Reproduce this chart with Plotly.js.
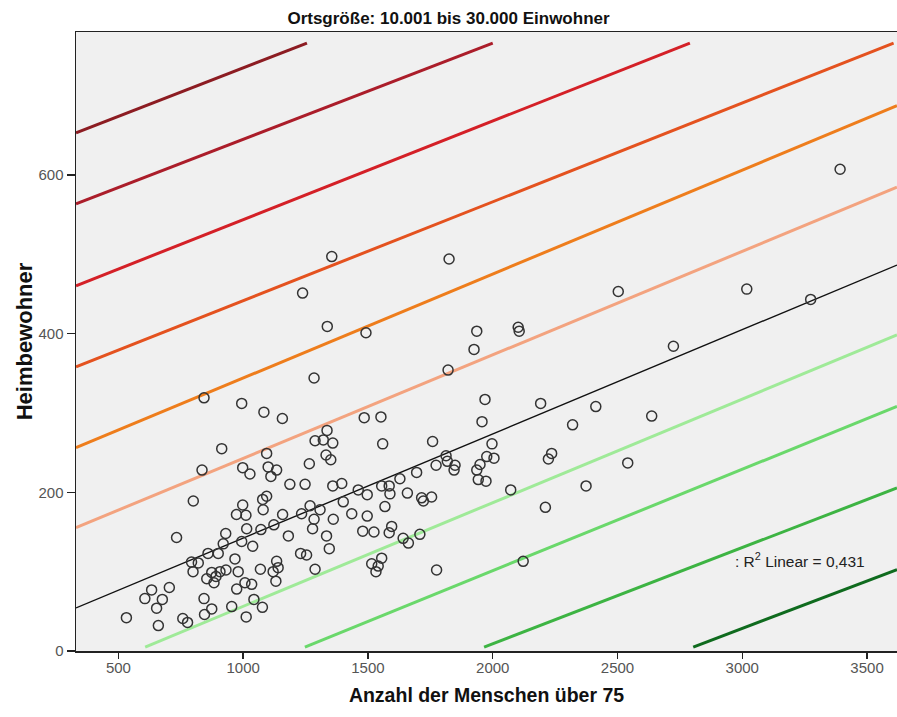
<!DOCTYPE html>
<html>
<head>
<meta charset="utf-8">
<script src="https://cdn.plot.ly/plotly-3.0.1.min.js"></script>
<style>html,body{margin:0;padding:0;background:#fff;}#chart{width:897px;height:717px;}</style>
</head>
<body>
<div id="chart"></div>
<script>
// Scatter data: Anzahl der Menschen über 75 (x) vs. Heimbewohner (y)
const xVals = [
  3392,3018,3274,2503,2724,1355,1825,1238,1337,1492,
  1936,1925,2102,2106,1284,1821,843,994,1083,1157,
  1485,1552,1969,1957,2192,2413,2320,2637,914,835,
  998,1027,1094,1100,1134,1111,1265,1187,1248,1288,
  1321,1336,1359,1332,1351,1359,1395,1559,1759,1997,
  1976,2005,2236,2223,2541,2374,2072,2211,2122,1773,
  1813,1818,1849,1845,1949,1936,1942,1973,1695,1628,
  1555,1585,1588,1461,1497,1658,1715,1755,1722,1401,
  1268,1308,1568,1234,1284,1361,1435,1497,1278,1334,
  1181,1479,1524,1585,1595,1641,1662,1708,1345,1230,
  1254,1288,1515,1541,1555,1532,1775,800,998,1080,
  973,1011,1094,1078,1158,733,930,1014,1071,1123,
  920,994,1038,1134,1120,1140,1131,1069,967,793,
  820,799,859,900,854,874,891,883,907,931,
  974,1007,1034,980,633,704,606,676,653,532,
  660,843,874,845,954,1012,758,777,1043,1077
];
const yVals = [
  607,456,443,453,384,497,494,451,409,401,
  403,380,408,403,344,354,319,312,301,293,
  294,295,317,289,312,308,285,296,255,228,
  231,223,249,232,228,220,236,210,210,265,
  266,278,262,247,241,208,211,261,264,261,
  245,243,249,242,237,208,203,181,113,234,
  246,239,234,228,235,228,216,214,225,217,
  208,208,198,203,197,199,193,194,189,188,
  183,178,182,173,166,166,173,170,154,145,
  145,151,150,149,157,142,136,147,129,123,
  121,103,110,107,117,100,102,189,184,178,
  172,171,195,191,172,143,148,154,153,159,
  135,138,132,113,100,105,88,103,116,112,
  111,100,123,123,91,99,94,86,100,102,
  78,86,84,100,77,80,66,65,54,42,
  32,66,53,46,56,43,41,36,65,55
];

// Linear fit line
const fitIntercept = 11.0;
const fitSlope = 0.1313;
const r2Text = ': R<sup>2</sup> Linear = 0,431';

// Reference lines (intercept, slope), from top to bottom
const bandIntercepts = [612.7, 523.6, 419.2, 317, 213, 112.4, -74.3, -154.4, -233, -330];
const bandSlopes     = [0.1221, 0.1212, 0.1243, 0.1245, 0.131, 0.1304, 0.1306, 0.1278, 0.1211, 0.1195];
// vertical extent over which the reference lines are drawn
const bandYExtent = [5, 766];

// Axis ranges / ticks
const xRange = [330, 3620];
const yRange = [0, 780];
const xTicks = [500, 1000, 1500, 2000, 2500, 3000, 3500];
const yTicks = [0, 200, 400, 600];

// Styles
const bandColors = ['#8c1c22', '#ab1d2a', '#d42027', '#e4521f', '#ee7d1c', '#f3a37f',
                    '#9fea98', '#6ad86b', '#3db443', '#0f6b1e'];
const FONT = '"Liberation Sans", Arial, sans-serif';

const traces = [];
function bandTrace(a, b, color, width) {
  const x0 = Math.max(xRange[0], (bandYExtent[0] - a) / b);
  const x1 = Math.min(xRange[1], (bandYExtent[1] - a) / b);
  const xs = [x0, x1];
  return {
    x: xs, y: xs.map(v => a + b * v), mode: 'lines', type: 'scatter',
    line: {color: color, width: width}, hoverinfo: 'skip', showlegend: false
  };
}
bandIntercepts.forEach((a, i) => traces.push(bandTrace(a, bandSlopes[i], bandColors[i], 3)));
const fitX = [xRange[0], xRange[1]];
traces.push({
  x: fitX, y: fitX.map(v => fitIntercept + fitSlope * v), mode: 'lines', type: 'scatter',
  line: {color: '#111', width: 1.4}, hoverinfo: 'skip', showlegend: false
});
traces.push({
  x: xVals, y: yVals, mode: 'markers', type: 'scatter', showlegend: false,
  marker: {symbol: 'circle-open', size: 10, color: '#333', line: {width: 1.5, color: '#333'}}
});

const layout = {
  width: 897, height: 717,
  margin: {l: 76, r: 0, t: 32, b: 66},
  paper_bgcolor: '#ffffff', plot_bgcolor: '#f0f0f0',
  showlegend: false,
  title: {text: 'Ortsgröße: 10.001 bis 30.000 Einwohner', x: 0.5, xref: 'container', xanchor: 'center',
          y: 0.975, yref: 'container', yanchor: 'middle',
          font: {family: FONT, size: 17, color: '#111', weight: 'bold'}},
  xaxis: {
    range: xRange, tickvals: xTicks, ticktext: xTicks.map(String),
    showgrid: false, zeroline: false, showline: true, linecolor: '#222', linewidth: 1.5, mirror: true,
    ticks: 'outside', ticklen: 6, tickcolor: '#222', tickwidth: 1.5, ticklabelstandoff: -4,
    tickfont: {family: FONT, size: 15, color: '#555'},
    title: {text: 'Anzahl der Menschen über 75', standoff: 14,
            font: {family: FONT, size: 19.5, color: '#111', weight: 'bold'}}
  },
  yaxis: {
    range: yRange, tickvals: yTicks, ticktext: yTicks.map(String),
    showgrid: false, zeroline: false, showline: true, linecolor: '#222', linewidth: 1.5,
    ticks: 'outside', ticklen: 8, tickcolor: '#222', tickwidth: 1.5,
    tickfont: {family: FONT, size: 15, color: '#555'},
    title: {text: 'Heimbewohner', standoff: 0,
            font: {family: FONT, size: 22, color: '#111', weight: 'bold'}}
  },
  annotations: [{
    x: 2963, y: 115, xref: 'x', yref: 'y', xanchor: 'left', yanchor: 'middle',
    text: r2Text, showarrow: false,
    font: {family: FONT, size: 15.5, color: '#222'}
  }]
};

Plotly.newPlot('chart', traces, layout, {displayModeBar: false, staticPlot: true});
</script>
</body>
</html>
